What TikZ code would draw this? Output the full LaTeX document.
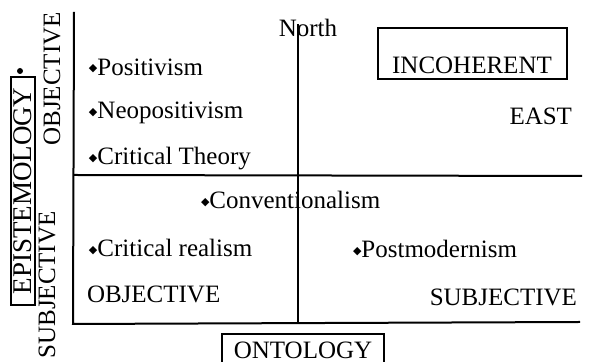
\documentclass[tikz,border=0pt]{standalone}
\usepackage{fontspec}
\setmainfont{Liberation Serif}
\newfontfamily\symfont{DejaVu Sans}
\usetikzlibrary{positioning}
\newcommand{\dia}{\raisebox{1.6pt}{\symfont\fontsize{5.5}{6}\selectfont ◆}}

\begin{document}
\begin{tikzpicture}[x=0.5pt, y=-0.5pt, line width=1pt,
    every node/.style={font=\fontsize{12.5}{14}\selectfont, inner sep=0pt},
    item/.style={anchor=west},
    boxed/.style={draw, line width=1pt}]
    \useasboundingbox (0,0) rectangle (590,362);
    \clip (0,0) rectangle (590,362);
    % axes
    \coordinate (ltop) at (74,12);
    \coordinate (lbot) at (73,324);
    \coordinate (rbot) at (580,322);
    \coordinate (mleft) at (74,175);
    \coordinate (mright) at (582,176);
    \coordinate (vtop) at (298,24);
    \coordinate (vbot) at (298,323);
    \draw (ltop) -- (lbot) -- (rbot);
    \draw (mleft) -- (mright);
    \draw (vtop) -- (vbot);
    \node (north) at (308,28) {North};
    % upper left
    \node[item] (posit) at (88,67) {\dia Positivism};
    \node[item] (neopos) at (88,113) {\dia Neopositivism};
    \node[item] (crith) at (88,159) {\dia Critical Theory};
    % lower half
    \node[item] (conv) at (200,200) {\dia Conventionalism};
    \node[item] (crreal) at (88,248) {\dia Critical realism};
    \node[item] (postm) at (352,249) {\dia Postmodernism};
    \node[item] (onobj) at (86,294) {OBJECTIVE};
    \node[anchor=east] (onsub) at (578,297) {SUBJECTIVE};
    % upper right
    \node[boxed, minimum width=94.5pt, text height=20pt, text depth=0pt,
      inner ysep=2.7pt, anchor=south] (incoh) at (472,80) {INCOHERENT};
    \node[anchor=east] (east) at (573,116) {EAST};
    % axis titles
    \node[boxed, minimum width=81pt, minimum height=16pt, anchor=north] (onto) at (303,333) {ONTOLOGY};
    \node[boxed, rotate=90, minimum width=114pt, minimum height=12pt,
      font=\fontsize{13.5}{15}\selectfont] (epist) at (23,191) {EPISTEMOLOGY};
    \node[circle, fill, minimum size=3pt] (dot) at (20,71) {};
    \node[rotate=90] (epobj) at (52,79) {OBJECTIVE};
    \node[rotate=90] (epsub) at (47,285) {SUBJECTIVE};
\end{tikzpicture}
\end{document}
